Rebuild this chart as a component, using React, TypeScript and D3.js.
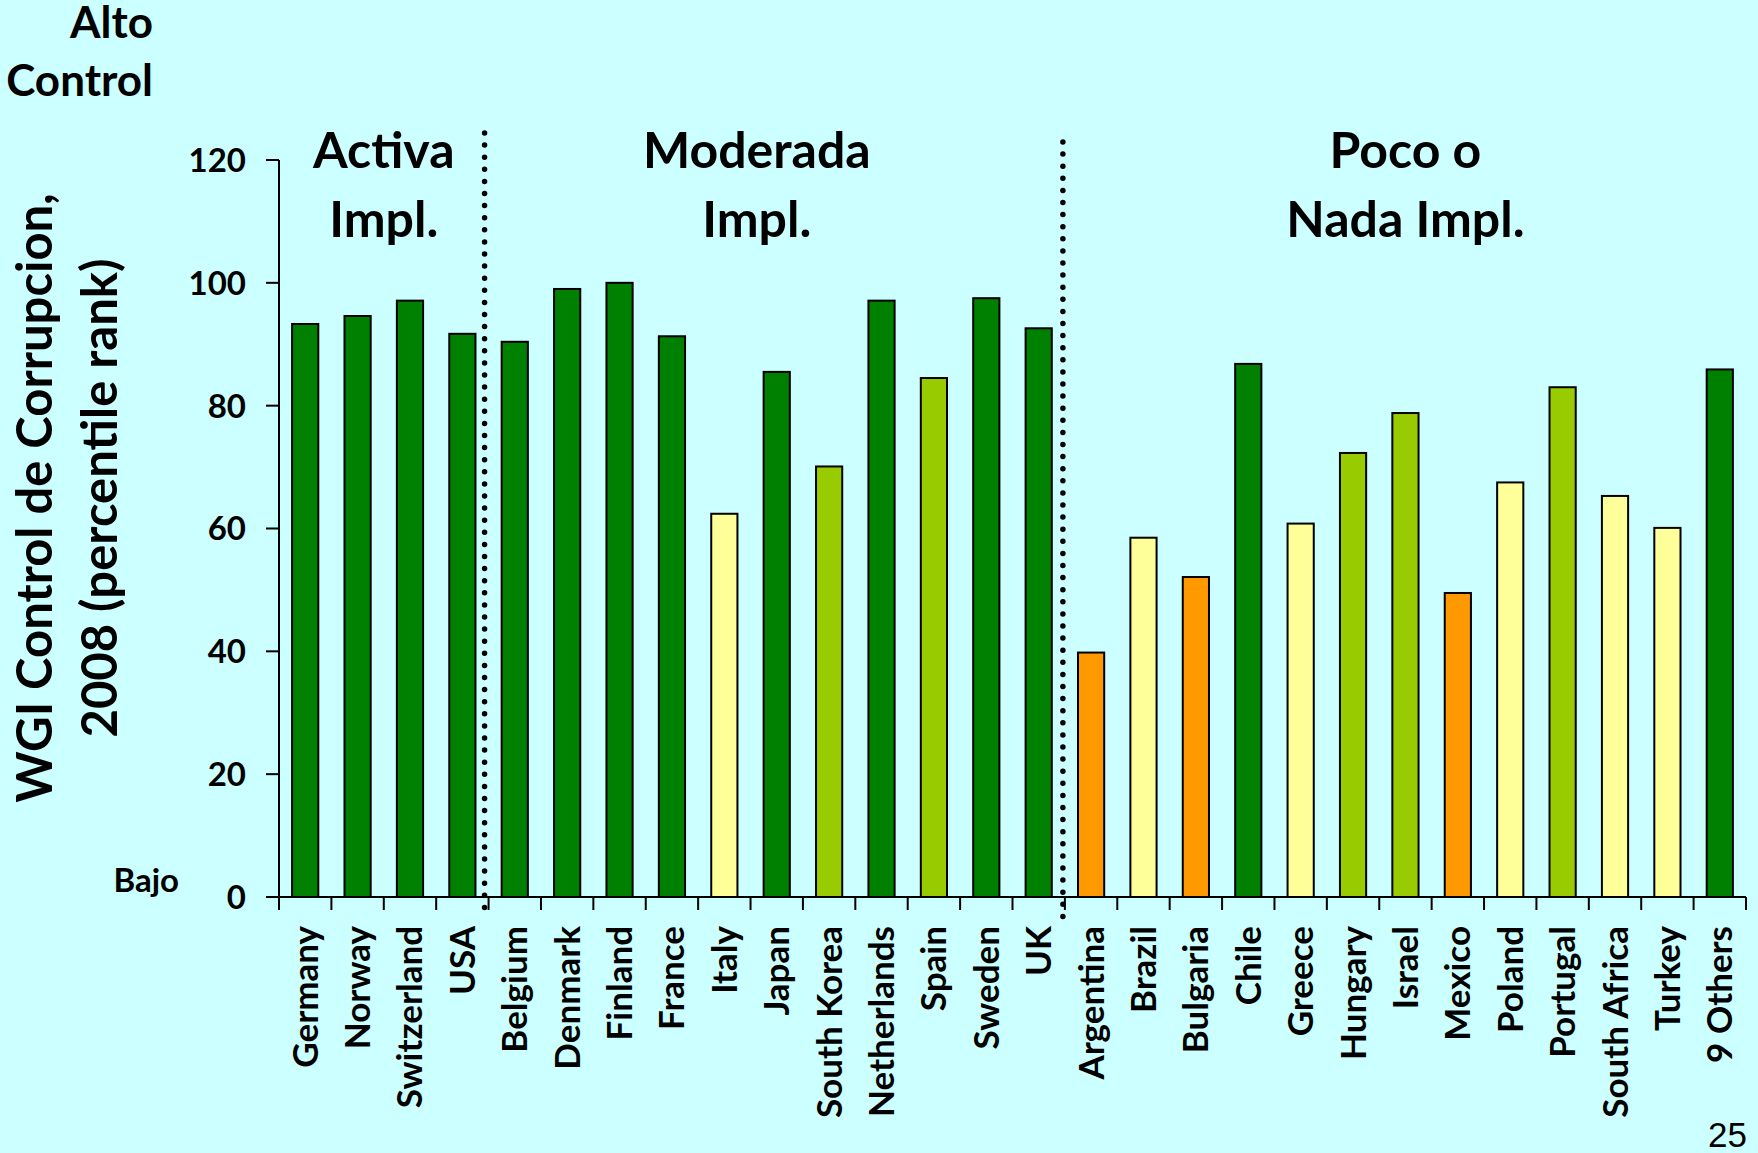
import React from "react";
import * as d3 from "d3";

const countries = [
  "Germany", "Norway", "Switzerland", "USA",
  "Belgium", "Denmark", "Finland", "France", "Italy", "Japan", "South Korea", "Netherlands", "Spain", "Sweden", "UK",
  "Argentina", "Brazil", "Bulgaria", "Chile", "Greece", "Hungary", "Israel", "Mexico", "Poland", "Portugal", "South Africa", "Turkey", "9 Others",
];
const values = [
  93.3, 94.6, 97.1, 91.7,
  90.4, 99.0, 100, 91.3, 62.4, 85.5, 70.1, 97.1, 84.5, 97.5, 92.6,
  39.8, 58.5, 52.1, 86.8, 60.8, 72.3, 78.8, 49.5, 67.5, 83.0, 65.3, 60.1, 85.9,
];
const levels = [
  "G", "G", "G", "G",
  "G", "G", "G", "G", "Y", "G", "L", "G", "L", "G", "G",
  "O", "Y", "O", "G", "Y", "L", "L", "O", "Y", "L", "Y", "Y", "G",
];
const levelColors: Record<string, string> = { G: "#008000", L: "#99CC00", Y: "#FFFF99", O: "#FF9900" };
const yTicks = [0, 20, 40, 60, 80, 100, 120];
const groupTitles = [["Activa", "Impl."], ["Moderada", "Impl."], ["Poco o", "Nada Impl."]];
const yTitleLines = ["WGI Control de Corrupcion,", "2008 (percentile rank)"];

const W = 1758;
const H = 1153;
const left = 279;
const right = 1746;
const top = 160;
const bottom = 897;
const FONT = "Lato, 'Open Sans', sans-serif";

export default function App() {
  const x = d3.scaleBand<string>().domain(countries).range([left, right]).paddingInner(0.5).paddingOuter(0.25);
  const y = d3.scaleLinear().domain([0, 120]).range([bottom, top]);
  const step = x.step();
  const boundary = (i: number) => left + i * step;
  const center = (i: number) => (x(countries[i]) as number) + x.bandwidth() / 2;

  const headingX = [
    (center(0) + center(3)) / 2,
    boundary(9) + step * 0.12,
    (center(15) + center(27)) / 2,
  ];

  return (
    <svg width={W} height={H} style={{ position: "absolute", left: 0, top: 0, background: "#CCFFFF" }} fontFamily={FONT}>
      <rect x={0} y={0} width={W} height={H} fill="#CCFFFF" />
      <text x={153} y={38} textAnchor="end" fontSize={44} fontWeight="bold">Alto</text>
      <text x={153} y={96} textAnchor="end" fontSize={44} fontWeight="bold">Control</text>

      {yTitleLines.map((t, i) => (
        <text key={t} transform={`translate(${52 + i * 65},498) rotate(-90)`} textAnchor="middle" fontSize={49} fontWeight="bold">{t}</text>
      ))}

      {countries.map((c, i) => (
        <rect key={c} x={x(c)} y={y(values[i])} width={x.bandwidth()} height={y(0) - y(values[i])}
          fill={levelColors[levels[i]]} stroke="#000" strokeWidth={2} />
      ))}

      <line x1={left} x2={left} y1={top} y2={bottom} stroke="#000" strokeWidth={2} />
      {yTicks.map((t) => (
        <g key={t}>
          <line x1={left - 13} x2={left} y1={y(t)} y2={y(t)} stroke="#000" strokeWidth={2} />
          <text x={246} y={y(t)} dy="0.36em" textAnchor="end" fontSize={33} fontWeight="bold">{t}</text>
        </g>
      ))}
      <text x={179} y={892} textAnchor="end" fontSize={33} fontWeight="bold">Bajo</text>

      <line x1={left} x2={right} y1={bottom} y2={bottom} stroke="#000" strokeWidth={2} />
      {d3.range(countries.length + 1).map((i) => (
        <line key={i} x1={boundary(i)} x2={boundary(i)} y1={bottom} y2={bottom + 13} stroke="#000" strokeWidth={2} />
      ))}
      {countries.map((c, i) => (
        <text key={c} transform={`translate(${center(i) + 12.5},926) rotate(-90)`} textAnchor="end" fontSize={35} fontWeight="bold">{c}</text>
      ))}

      <line x1={boundary(4) - 4} x2={boundary(4) - 4} y1={133} y2={910} stroke="#000" strokeWidth={5.5} strokeLinecap="round" strokeDasharray="0 12.1" />
      <line x1={boundary(15) - 2} x2={boundary(15) - 2} y1={142} y2={920} stroke="#000" strokeWidth={5.5} strokeLinecap="round" strokeDasharray="0 12.1" />

      {groupTitles.map((lines, g) => (
        <g key={g}>
          <text x={headingX[g]} y={168} textAnchor="middle" fontSize={50} fontWeight="bold">{lines[0]}</text>
          <text x={headingX[g]} y={237} textAnchor="middle" fontSize={50} fontWeight="bold">{lines[1]}</text>
        </g>
      ))}

      <text x={1747} y={1147} textAnchor="end" fontSize={35} fontFamily="'Liberation Sans', Arial, sans-serif">25</text>
    </svg>
  );
}
